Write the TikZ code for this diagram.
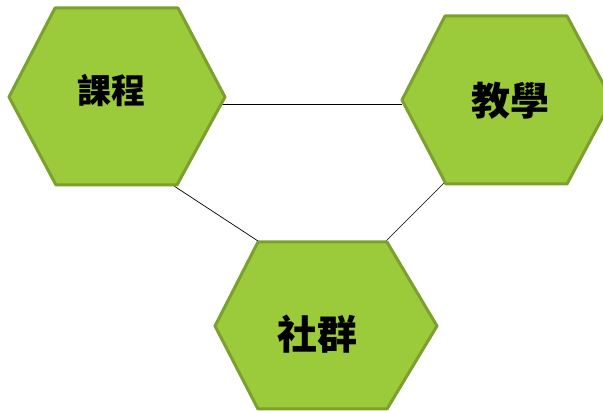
\documentclass[tikz,border=0pt]{standalone}
\usepackage{fontspec}
\newfontfamily\cjk{Noto Sans CJK TC}
\begin{document}
\begin{tikzpicture}[x=1pt,y=-1pt,
  hexa/.style={fill=hexfill,draw=hexline,line width=3pt,line join=round},
  conn/.style={draw=black,line width=0.7pt},
  lbl/.style={font=\cjk\bfseries,text=black,inner sep=0pt}]
\definecolor{hexfill}{HTML}{9BCA3B}
\definecolor{hexline}{HTML}{7BA02E}
\useasboundingbox (0,0) rectangle (603,411);
% hexagon 1 (課程)
\coordinate (a1) at (55,8);
\coordinate (a2) at (178,8);
\coordinate (a3) at (225,97);
\coordinate (a4) at (177,185);
\coordinate (a5) at (56,185);
\coordinate (a6) at (9,97);
% hexagon 2 (教學)
\coordinate (b1) at (445,16);
\coordinate (b2) at (567,16);
\coordinate (b3) at (612,100);
\coordinate (b4) at (567,184);
\coordinate (b5) at (446,184);
\coordinate (b6) at (402,100);
% hexagon 3 (社群)
\coordinate (c1) at (258,242);
\coordinate (c2) at (387,242);
\coordinate (c3) at (437,326);
\coordinate (c4) at (387,409);
\coordinate (c5) at (258,409);
\coordinate (c6) at (215,326);
% connector ends
\coordinate (p1) at (219,104);
\coordinate (p2) at (402,104);
\coordinate (q1) at (174,186);
\coordinate (q2) at (258,241);
\coordinate (r1) at (445,182);
\coordinate (r2) at (386,241);
\draw[conn] (p1) -- (p2);
\draw[conn] (q1) -- (q2);
\draw[conn] (r1) -- (r2);
\path[hexa] (a1) -- (a2) -- (a3) -- (a4) -- (a5) -- (a6) -- cycle;
\path[hexa] (b1) -- (b2) -- (b3) -- (b4) -- (b5) -- (b6) -- cycle;
\path[hexa] (c1) -- (c2) -- (c3) -- (c4) -- (c5) -- (c6) -- cycle;
\node[lbl,font=\cjk\bfseries\fontsize{34}{34}\selectfont] (t1) at (111,90) {課程};
\node[lbl,font=\cjk\bfseries\fontsize{39}{39}\selectfont] (t2) at (510,101) {教學};
\node[lbl,font=\cjk\bfseries\fontsize{40}{40}\selectfont] (t3) at (317,334) {社群};
\end{tikzpicture}
\end{document}
